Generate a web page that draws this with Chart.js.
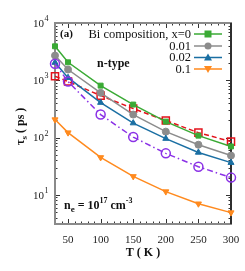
<!DOCTYPE html>
<html>
<head>
<meta charset="utf-8">
<script src="https://cdn.jsdelivr.net/npm/chart.js@4/dist/chart.umd.min.js"></script>
<style>
  html, body { margin: 0; padding: 0; background: #fff; }
  canvas { display: block; }
</style>
</head>
<body>
<canvas id="myChart" width="245" height="271"></canvas>
<script>
const temps = [30, 50, 100, 150, 200, 250, 300]
const bi0 = [3920, 2060, 807, 377, 190, 108, 70]
const bi001 = [2700, 1540, 603, 252, 127, 75, 48.5]
const bi002 = [2040, 1110, 408, 179, 96, 55, 36.5]
const bi01 = [206, 122, 45, 21, 11.4, 7.0, 4.9]
const redSquares = [1175, 950, 540, 321, 198, 122, 85]
const purpleCircles = [1950, 950, 252, 102, 53, 31, 20]
const xTicks = [50, 100, 150, 200, 250, 300]
const yDecades = [1, 2, 3, 4]
const legendLabels = ['Bi composition, x=0', '0.01', '0.02', '0.1']

const serif = "'Liberation Serif', 'DejaVu Serif', serif"
const green = '#3aaa35'
const gray = '#8c8c8c'
const blue = '#1a6fa3'
const orange = '#ff8a1e'
const red = '#e3121b'
const purple = '#8b32e6'

const pts = vals => temps.map((t, i) => ({ x: t, y: vals[i] }))

function mkSet(vals, color, style, extra) {
  return Object.assign({
    data: pts(vals),
    borderColor: color,
    backgroundColor: color,
    borderWidth: 1.5,
    pointStyle: style,
    pointRadius: 3.5,
    pointBorderWidth: 1,
    tension: 0,
    clip: false
  }, extra || {})
}

// frame, inward ticks, y labels, legend and text
const decor = {
  id: 'decor',
  beforeDatasetsDraw(chart) {
    const ctx = chart.ctx
    const a = chart.chartArea
    const xs = chart.scales.x
    const ys = chart.scales.y
    ctx.save()

    // ticks
    ctx.strokeStyle = '#333'
    ctx.lineWidth = 1
    ctx.beginPath()
    for (let v = 30; v <= 300; v += 10) {
      const x = Math.round(xs.getPixelForValue(v)) + 0.5
      const len = v % 50 === 0 ? 5 : 2.5
      ctx.moveTo(x, a.bottom); ctx.lineTo(x, a.bottom - len)
      ctx.moveTo(x, a.top); ctx.lineTo(x, a.top + len)
    }
    for (let d = 0; d <= 3; d++) {
      for (let m = 1; m <= 9; m++) {
        const v = m * Math.pow(10, d)
        if (v < ys.min || v > ys.max) continue
        const y = Math.round(ys.getPixelForValue(v)) + 0.5
        const len = m === 1 ? 5 : 2.5
        ctx.moveTo(a.left, y); ctx.lineTo(a.left + len, y)
        ctx.moveTo(a.right, y); ctx.lineTo(a.right - len, y)
      }
    }
    ctx.stroke()

    // frame
    ctx.strokeStyle = '#8a8a8a'
    ctx.lineWidth = 2
    ctx.strokeRect(a.left, a.top, a.right - a.left, a.bottom - a.top)
    ctx.strokeStyle = '#111'
    ctx.lineWidth = 1.5
    ctx.beginPath(); ctx.moveTo(a.right, a.top); ctx.lineTo(a.right, a.bottom); ctx.stroke()

    // y tick labels 10^k
    ctx.fillStyle = '#222'
    ctx.textBaseline = 'middle'
    yDecades.forEach(k => {
      const y = ys.getPixelForValue(Math.pow(10, k))
      ctx.font = '11px ' + serif
      ctx.textAlign = 'right'
      ctx.fillText('10', 44, y + 1)
      ctx.font = '8px ' + serif
      ctx.textAlign = 'left'
      ctx.fillText(String(k), 44.5, y - 4)
    })

    // legend
    const rows = [34, 46, 57.5, 69]
    const colors = [green, gray, blue, orange]
    legendLabels.forEach((lab, i) => {
      const y = rows[i]
      ctx.font = '12.5px ' + serif
      ctx.textAlign = 'right'
      ctx.fillStyle = '#111'
      ctx.fillText(lab, 191, y + 0.5)
      ctx.strokeStyle = colors[i]
      ctx.fillStyle = colors[i]
      ctx.lineWidth = 1.5
      ctx.beginPath(); ctx.moveTo(194, y); ctx.lineTo(222, y); ctx.stroke()
      const cx = 208
      ctx.beginPath()
      if (i === 0) ctx.rect(cx - 3.5, y - 3.5, 7, 7)
      if (i === 1) ctx.arc(cx, y, 3.5, 0, Math.PI * 2)
      if (i === 2) { ctx.moveTo(cx, y - 4); ctx.lineTo(cx + 4, y + 3); ctx.lineTo(cx - 4, y + 3); ctx.closePath() }
      if (i === 3) { ctx.moveTo(cx, y + 4); ctx.lineTo(cx + 4, y - 3); ctx.lineTo(cx - 4, y - 3); ctx.closePath() }
      ctx.fill()
    })

    // annotations
    ctx.fillStyle = '#111'
    ctx.textAlign = 'left'
    ctx.font = 'bold 11px ' + serif
    ctx.fillText('(a)', 60, 34)
    ctx.font = 'bold 12px ' + serif
    ctx.fillText('n-type', 97, 64)

    let x = 64
    const yb = 206
    const piece = (txt, size, dy) => {
      ctx.font = 'bold ' + size + 'px ' + serif
      ctx.fillText(txt, x, yb + dy)
      x += ctx.measureText(txt).width
    }
    piece('n', 12, 0)
    piece('e', 9, 4)
    piece(' = 10', 12, 0)
    piece('17', 8, -5)
    piece(' cm', 12, 0)
    piece('-3', 8, -5)

    // x title
    ctx.font = 'bold 12px ' + serif
    ctx.textAlign = 'center'
    ctx.fillText('T ( K )', 143, 253)

    // y title (rotated)
    ctx.translate(21, 123)
    ctx.rotate(-Math.PI / 2)
    ctx.textAlign = 'left'
    let tx = -22
    const rpiece = (txt, size, dy) => {
      ctx.font = 'bold ' + size + 'px ' + serif
      ctx.fillText(txt, tx, dy)
      tx += ctx.measureText(txt).width
    }
    rpiece('τ', 12, 0)
    rpiece('s', 9, 4)
    rpiece(' ( ps )', 12, 0)

    ctx.restore()
  }
}

const ctx = document.getElementById('myChart').getContext('2d')

const chart = new Chart(ctx, {
  type: 'line',
  data: {
    datasets: [
      mkSet(purpleCircles, purple, 'circle', { backgroundColor: 'rgba(0,0,0,0)', borderDash: [6, 3, 1.5, 3], pointRadius: 4.5, pointBorderWidth: 1.5, pointBorderColor: purple }),
      mkSet(bi01, orange, 'triangle', { pointRotation: 180 }),
      mkSet(bi002, blue, 'triangle'),
      mkSet(bi001, gray, 'circle'),
      mkSet(bi0, green, 'rect', { pointRadius: 3.5 }),
      mkSet(redSquares, red, 'rect', { backgroundColor: 'rgba(0,0,0,0)', borderDash: [5, 3], pointRadius: 5, pointBorderWidth: 1.5, pointBorderColor: red })
    ]
  },
  options: {
    responsive: false,
    animation: false,
    devicePixelRatio: 1,
    layout: { padding: { top: 23, right: 14, left: 0, bottom: 0 } },
    scales: {
      x: {
        type: 'linear',
        min: 30,
        max: 300,
        afterBuildTicks: s => { s.ticks = xTicks.map(v => ({ value: v })) },
        afterFit: s => { s.height = 47 },
        grid: { display: false },
        border: { display: false },
        ticks: {
          padding: 2,
          color: '#222',
          maxRotation: 0,
          font: { family: serif, size: 11 }
        }
      },
      y: {
        type: 'logarithmic',
        min: 3.1,
        max: 10000,
        afterFit: s => { s.width = 55 },
        grid: { display: false },
        border: { display: false },
        ticks: { display: false }
      }
    },
    plugins: {
      legend: { display: false },
      tooltip: { enabled: false }
    }
  },
  plugins: [decor]
})
</script>
</body>
</html>
